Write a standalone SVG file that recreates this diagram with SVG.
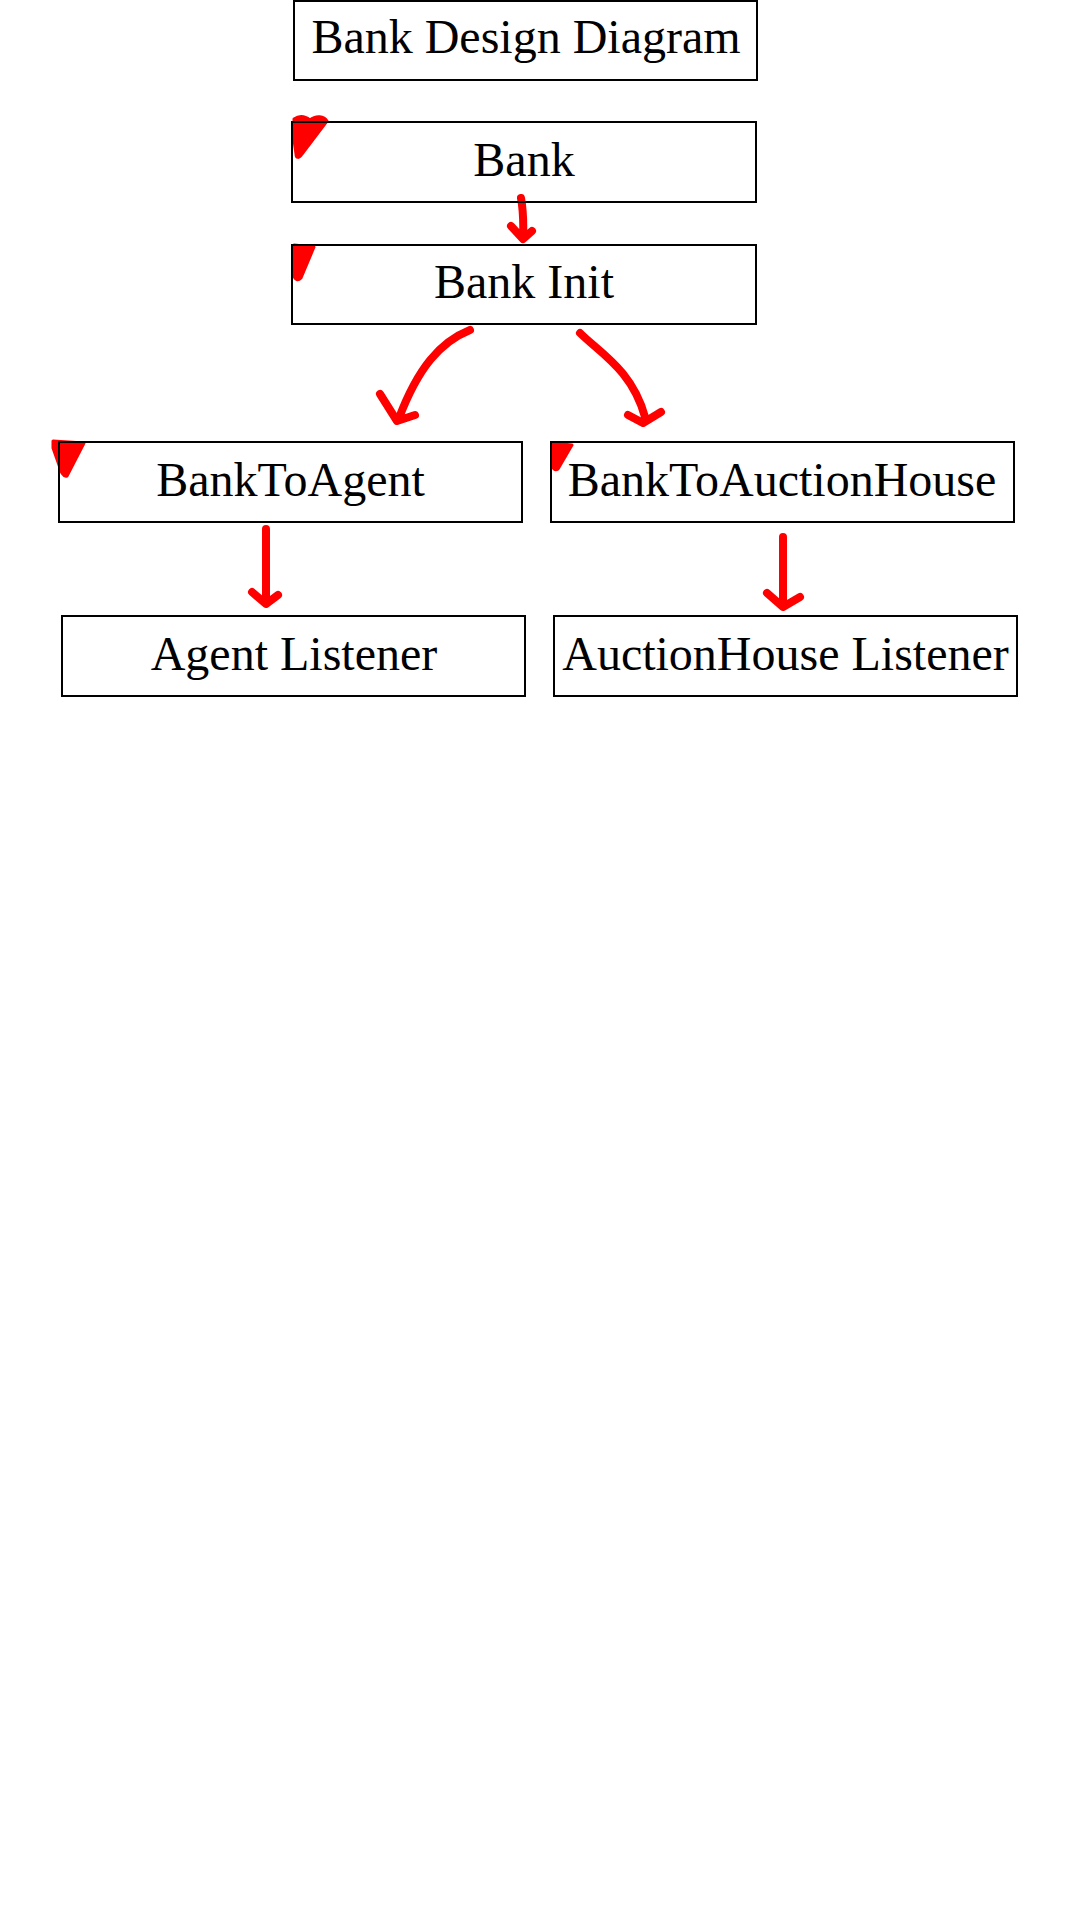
<svg xmlns="http://www.w3.org/2000/svg" width="1080" height="1920" viewBox="0 0 1080 1920">
<style>
.box{fill:none;stroke:#000;stroke-width:2}
.lbl{font-family:"Liberation Serif","Times New Roman",serif;font-size:48px;fill:#000;text-anchor:middle}
.ink{fill:none;stroke:#ff0000;stroke-width:8;stroke-linecap:round;stroke-linejoin:round}
.mark{fill:#ff0000;stroke:#ff0000;stroke-width:3;stroke-linejoin:round}
</style>
<rect width="1080" height="1920" fill="#fff"/>
<g id="marks">
<path class="mark" d="M294,119 C300,115 306,117 310,120 C316,115 324,116 327,121 L302,154 C299,159 296,158 296,154 L294,140 Z"/>
<path class="mark" d="M294,245 L314,247 L301,278 C298,281 295,280 294,276 Z"/>
<path class="mark" d="M53,441 L84,443 L67,476 C63,477 61,472 59,465 L53,448 Z"/>
<path class="mark" d="M552,443 L572,445 L558,469 C555,471 553,469 553,466 Z"/>
</g>
<g id="connectors">
<path class="ink" d="M521,198 Q524,215 523,238 M511,226 L523,239 L532,231"/>
<path class="ink" d="M470,330 C440,342 418,368 399,418 M380,394 L397,421 L415,415"/>
<path class="ink" d="M580,333 C600,353 632,370 645,417 M628,415 L643,423 L661,412"/>
<path class="ink" d="M266,529 L266,603 M252,592 L266,604 L278,595"/>
<path class="ink" d="M783,537 L783,606 M767,593 L783,607 L800,597"/>
</g>
<g id="title">
<rect class="box" x="294" y="1" width="463" height="79"/>
<text class="lbl" x="526" y="53">Bank Design Diagram</text>
</g>
<g id="bank">
<rect class="box" x="292" y="122" width="464" height="80"/>
<text class="lbl" x="524" y="176">Bank</text>
</g>
<g id="bank-init">
<rect class="box" x="292" y="245" width="464" height="79"/>
<text class="lbl" x="524" y="298">Bank Init</text>
</g>
<g id="bank-to-agent">
<rect class="box" x="59" y="442" width="463" height="80"/>
<text class="lbl" x="290.5" y="496">BankToAgent</text>
</g>
<g id="bank-to-auction-house">
<rect class="box" x="551" y="442" width="463" height="80"/>
<text class="lbl" x="782" y="496">BankToAuctionHouse</text>
</g>
<g id="agent-listener">
<rect class="box" x="62" y="616" width="463" height="80"/>
<text class="lbl" x="294" y="670">Agent Listener</text>
</g>
<g id="auction-house-listener">
<rect class="box" x="554" y="616" width="463" height="80"/>
<text class="lbl" x="785.5" y="670">AuctionHouse Listener</text>
</g>
</svg>
